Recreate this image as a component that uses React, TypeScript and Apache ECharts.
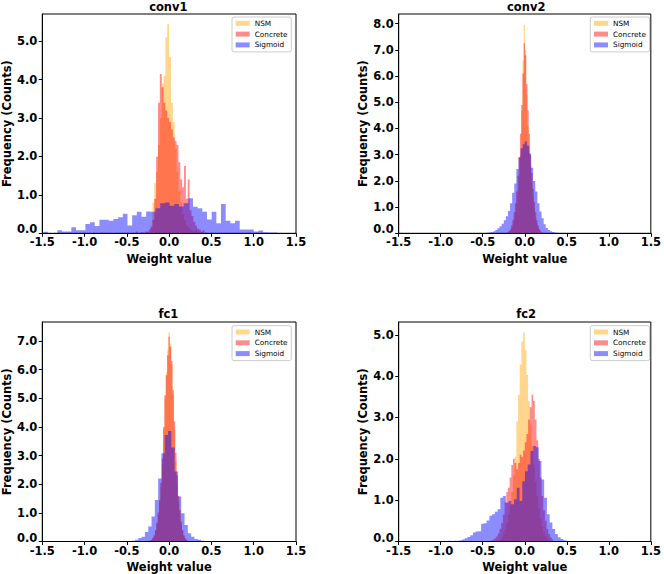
import React, { useEffect, useRef } from 'react';
import * as echarts from 'echarts';

const FONT = '"DejaVu Sans", sans-serif';
const METHODS = ['NSM', 'Concrete', 'Sigmoid'];
const COLORS = ['rgba(255,165,0,0.45)', 'rgba(255,0,0,0.45)', 'rgba(0,0,255,0.45)'];
const TITLES = ['conv1', 'conv2', 'fc1', 'fc2'];
const Y_MAX = [5.71, 8.37, 7.66, 5.31];
const Y_TICKS = [
  [0, 1, 2, 3, 4, 5],
  [0, 1, 2, 3, 4, 5, 6, 7, 8],
  [0, 1, 2, 3, 4, 5, 6, 7],
  [0, 1, 2, 3, 4, 5],
];
const X_TICKS = [-1.5, -1.0, -0.5, 0.0, 0.5, 1.0, 1.5];

// [bin start, bin width] and density heights per histogram
const CONV1_NSM_BIN = [-0.22, 0.022];
const CONV1_NSM = [0.2, 0.8, 1.3, 1.6, 2.3, 3.0, 3.9, 4.1, 5.1, 5.45, 4.6, 3.4, 2.9, 2.2, 1.6, 1.1, 0.8, 0.5, 0.35, 0.2, 0.15, 0.1, 0.08, 0.05, 0.1, 0.05, 0.04];
const CONV1_CONCRETE_BIN = [-0.396, 0.022];
const CONV1_CONCRETE = [0.05, 0, 0, 0.03, 0, 0.05, 0.04, 0.1, 0.15, 0.35, 0.9, 2.0, 3.4, 4.15, 3.8, 3.4, 3.2, 3.0, 2.9, 2.7, 2.5, 2.4, 2.3, 1.85, 1.4, 1.2, 1.75, 0.9, 1.4, 0.6, 0.45, 0.3, 0.2, 0.12, 0.1, 0.05, 0.08];
const CONV1_SIGMOID_BIN = [-1.488, 0.0553];
const CONV1_SIGMOID = [0.04, 0.01, 0.01, 0.08, 0.05, 0.05, 0.16, 0.08, 0.08, 0.24, 0.29, 0.19, 0.35, 0.35, 0.33, 0.37, 0.42, 0.51, 0.2, 0.47, 0.56, 0.43, 0.57, 0.56, 0.65, 0.78, 0.8, 0.72, 0.76, 0.7, 0.78, 0.91, 0.69, 0.65, 0.56, 0.36, 0.56, 0.26, 0.76, 0.33, 0.26, 0.33, 0.1, 0.1, 0.1, 0.05, 0.07, 0.03, 0.02, 0.02];

const CONV2_NSM_BIN = [-0.2075, 0.015];
const CONV2_NSM = [0.04, 0.07, 0.11, 0.2, 0.35, 0.55, 0.8, 1.15, 1.6, 2.2, 3.0, 4.7, 6.6, 7.95, 7.0, 5.3, 4.1, 3.3, 2.6, 1.95, 1.4, 0.95, 0.6, 0.38, 0.22, 0.12, 0.06, 0.03];
const CONV2_CONCRETE_BIN = [-0.2075, 0.015];
const CONV2_CONCRETE = [0.05, 0.09, 0.15, 0.3, 0.5, 0.8, 1.15, 1.6, 2.2, 2.9, 3.8, 4.9, 6.1, 7.25, 6.8, 5.7, 4.7, 3.8, 3.0, 2.3, 1.7, 1.2, 0.8, 0.5, 0.3, 0.16, 0.08, 0.04];
const CONV2_SIGMOID_BIN = [-0.45, 0.025];
const CONV2_SIGMOID = [0.02, 0.03, 0.05, 0.08, 0.13, 0.19, 0.27, 0.36, 0.5, 0.65, 0.85, 1.15, 1.55, 1.9, 2.45, 2.9, 3.25, 3.4, 3.5, 3.35, 3.05, 2.5, 2.0, 1.6, 1.15, 0.83, 0.57, 0.35, 0.2, 0.13, 0.08, 0.05, 0.03, 0.02];

const FC1_NSM_BIN = [-0.232, 0.016];
const FC1_NSM = [0.03, 0.05, 0.1, 0.2, 0.38, 0.62, 0.95, 1.35, 1.9, 2.7, 3.9, 5.0, 5.9, 6.7, 7.3, 6.9, 6.2, 5.1, 3.9, 2.8, 2.0, 1.4, 0.95, 0.6, 0.35, 0.18, 0.09, 0.05, 0.02];
const FC1_CONCRETE_BIN = [-0.232, 0.016];
const FC1_CONCRETE = [0.03, 0.06, 0.12, 0.22, 0.4, 0.65, 1.0, 1.45, 2.05, 2.9, 4.0, 5.1, 5.8, 6.5, 7.15, 6.8, 6.3, 5.3, 4.2, 3.1, 2.3, 1.6, 1.1, 0.7, 0.4, 0.22, 0.11, 0.05, 0.02];
const FC1_SIGMOID_BIN = [-0.52, 0.039];
const FC1_SIGMOID = [0.01, 0.02, 0.03, 0.06, 0.12, 0.17, 0.33, 0.52, 0.87, 1.45, 2.2, 3.08, 3.72, 3.86, 3.28, 2.44, 1.57, 0.99, 0.58, 0.29, 0.17, 0.09, 0.06, 0.03, 0.02, 0.01];

const FC2_NSM_BIN = [-0.3, 0.02];
const FC2_NSM = [0.05, 0.1, 0.2, 0.3, 0.45, 0.65, 0.9, 1.2, 1.6, 2.05, 2.9, 3.55, 4.28, 4.84, 5.06, 4.64, 4.03, 3.4, 2.83, 2.3, 1.85, 1.45, 1.1, 0.8, 0.55, 0.35, 0.22, 0.13, 0.07, 0.04];
const FC2_CONCRETE_BIN = [-0.4, 0.02];
const FC2_CONCRETE = [0.03, 0.05, 0.08, 0.12, 0.2, 0.3, 0.45, 0.65, 0.95, 1.2, 1.3, 1.55, 1.85, 2.0, 1.9, 1.75, 1.9, 2.1, 2.05, 2.2, 2.4, 2.6, 2.95, 3.25, 3.55, 3.4, 2.95, 2.45, 2.0, 1.55, 1.1, 0.75, 0.5, 0.3, 0.18, 0.1, 0.05];
const FC2_SIGMOID_BIN = [-0.91, 0.0326];
const FC2_SIGMOID = [0.02, 0.01, 0.02, 0.02, 0.03, 0.05, 0.08, 0.11, 0.15, 0.22, 0.24, 0.25, 0.43, 0.44, 0.51, 0.62, 0.66, 0.72, 0.78, 1.06, 1.1, 0.94, 0.98, 0.9, 1.02, 1.3, 0.98, 1.46, 1.7, 1.86, 2.19, 2.31, 2.28, 1.95, 1.5, 1.06, 0.66, 0.46, 0.3, 0.18, 0.1, 0.06, 0.03, 0.02];

const PANEL_HISTS = [
  [[CONV1_NSM_BIN, CONV1_NSM], [CONV1_CONCRETE_BIN, CONV1_CONCRETE], [CONV1_SIGMOID_BIN, CONV1_SIGMOID]],
  [[CONV2_NSM_BIN, CONV2_NSM], [CONV2_CONCRETE_BIN, CONV2_CONCRETE], [CONV2_SIGMOID_BIN, CONV2_SIGMOID]],
  [[FC1_NSM_BIN, FC1_NSM], [FC1_CONCRETE_BIN, FC1_CONCRETE], [FC1_SIGMOID_BIN, FC1_SIGMOID]],
  [[FC2_NSM_BIN, FC2_NSM], [FC2_CONCRETE_BIN, FC2_CONCRETE], [FC2_SIGMOID_BIN, FC2_SIGMOID]],
] as const;

const GRIDS = [
  { left: 40.7, top: 14, width: 255.3, height: 219.3 },
  { left: 398.7, top: 14, width: 255, height: 219.3 },
  { left: 40.7, top: 322, width: 255.3, height: 219.8 },
  { left: 398.7, top: 322, width: 255, height: 220.3 },
];
const LEGEND_POS = [
  { left: 232, top: 17 },
  { left: 590.3, top: 17 },
  { left: 232, top: 325.7 },
  { left: 590.3, top: 325.7 },
];

function toBins(bin: readonly number[], heights: readonly number[]) {
  const [start, w] = bin;
  return heights.map((h, i) => [start + i * w, start + (i + 1) * w, h]);
}

function makeRender(color: string) {
  return (params: any, api: any) => {
    if (params.dataIndexInside !== 0) return null;
    const n = params.dataInsideLength;
    const pts: number[][] = [];
    for (let i = 0; i < n; i++) {
      const x0 = api.value(0, i);
      const x1 = api.value(1, i);
      const h = api.value(2, i);
      if (i === 0) pts.push(api.coord([x0, 0]));
      pts.push(api.coord([x0, h]));
      pts.push(api.coord([x1, h]));
      if (i === n - 1) pts.push(api.coord([x1, 0]));
    }
    return {
      type: 'polygon',
      shape: { points: pts },
      style: { fill: color, stroke: null, lineWidth: 0 },
    };
  };
}

const boldText = { fontFamily: FONT, fontWeight: 'bold' as const, fontSize: 11.5, color: '#000' };

export default function App() {
  const ref = useRef<HTMLDivElement>(null);
  useEffect(() => {
    document.body.style.margin = '0';
    if (!ref.current) return;
    const chart = echarts.init(ref.current, null, { renderer: 'svg' });

    const series: any[] = [];
    PANEL_HISTS.forEach((hists, p) => {
      hists.forEach(([bin, heights], m) => {
        series.push({
          type: 'custom',
          name: METHODS[m],
          xAxisIndex: p,
          yAxisIndex: p,
          clip: true,
          encode: { x: [0, 1], y: 2 },
          itemStyle: { color: COLORS[m] },
          data: toBins(bin, heights),
          renderItem: makeRender(COLORS[m]),
        });
      });
    });

    const option: any = {
      animation: false,
      backgroundColor: '#fff',
      grid: GRIDS.map((g) => ({ ...g, show: true, borderColor: '#000', borderWidth: 1, backgroundColor: 'transparent' })),
      xAxis: GRIDS.map((_, i) => ({
        type: 'value',
        gridIndex: i,
        min: -1.5,
        max: 1.5,
        interval: 0.5,
        z: 10,
        name: 'Weight value',
        nameLocation: 'middle',
        nameGap: 19.5,
        nameTextStyle: boldText,
        axisLine: { show: true, onZero: false, lineStyle: { color: '#000', width: 1 } },
        axisTick: { show: true, inside: false, length: 3.5, customValues: X_TICKS, lineStyle: { color: '#000', width: 1 } },
        axisLabel: { ...boldText, lineHeight: 8, margin: 5, customValues: X_TICKS, showMinLabel: true, showMaxLabel: true, formatter: (v: number) => v.toFixed(1) },
        splitLine: { show: false },
      })),
      yAxis: GRIDS.map((_, i) => ({
        type: 'value',
        gridIndex: i,
        min: 0,
        max: Y_MAX[i],
        interval: 1,
        z: 10,
        name: 'Frequency (Counts)',
        nameLocation: 'middle',
        nameGap: 25,
        nameTextStyle: boldText,
        axisLine: { show: true, onZero: false, lineStyle: { color: '#000', width: 1 } },
        axisTick: { show: true, inside: false, length: 3.5, customValues: Y_TICKS[i], lineStyle: { color: '#000', width: 1 } },
        axisLabel: {
          ...boldText,
          lineHeight: 8,
          margin: 5,
          customValues: Y_TICKS[i],
          verticalAlignMinLabel: 'bottom',
          formatter: (v: number) => (Math.abs(v - Math.round(v)) < 1e-6 ? v.toFixed(1) : ''),
        },
        splitLine: { show: false },
      })),
      legend: LEGEND_POS.map((pos) => ({
        ...pos,
        orient: 'vertical',
        selectedMode: false,
        icon: 'rect',
        itemWidth: 14,
        itemHeight: 5,
        itemGap: 1.8,
        padding: [1.8, 3.7, 2.5, 3.7],
        backgroundColor: 'rgba(255,255,255,0.8)',
        borderColor: '#cccccc',
        borderWidth: 1,
        borderRadius: 2,
        textStyle: { fontFamily: FONT, fontSize: 7.3, color: '#000', lineHeight: 9 },
        data: METHODS.map((name, m) => ({ name, itemStyle: { color: COLORS[m], borderWidth: 0 } })),
      })),
      graphic: TITLES.map((t, i) => ({
        type: 'text',
        x: GRIDS[i].left + GRIDS[i].width / 2,
        y: i < 2 ? 6.7 : 313.5,
        style: {
          text: t,
          fontFamily: FONT,
          fontWeight: 'bold',
          fontSize: 11.5,
          fill: '#000',
          textAlign: 'center',
          textVerticalAlign: 'middle',
        },
      })),
      series,
    };
    chart.setOption(option);
    return () => chart.dispose();
  }, []);
  return <div ref={ref} style={{ width: 664, height: 574 }} />;
}
